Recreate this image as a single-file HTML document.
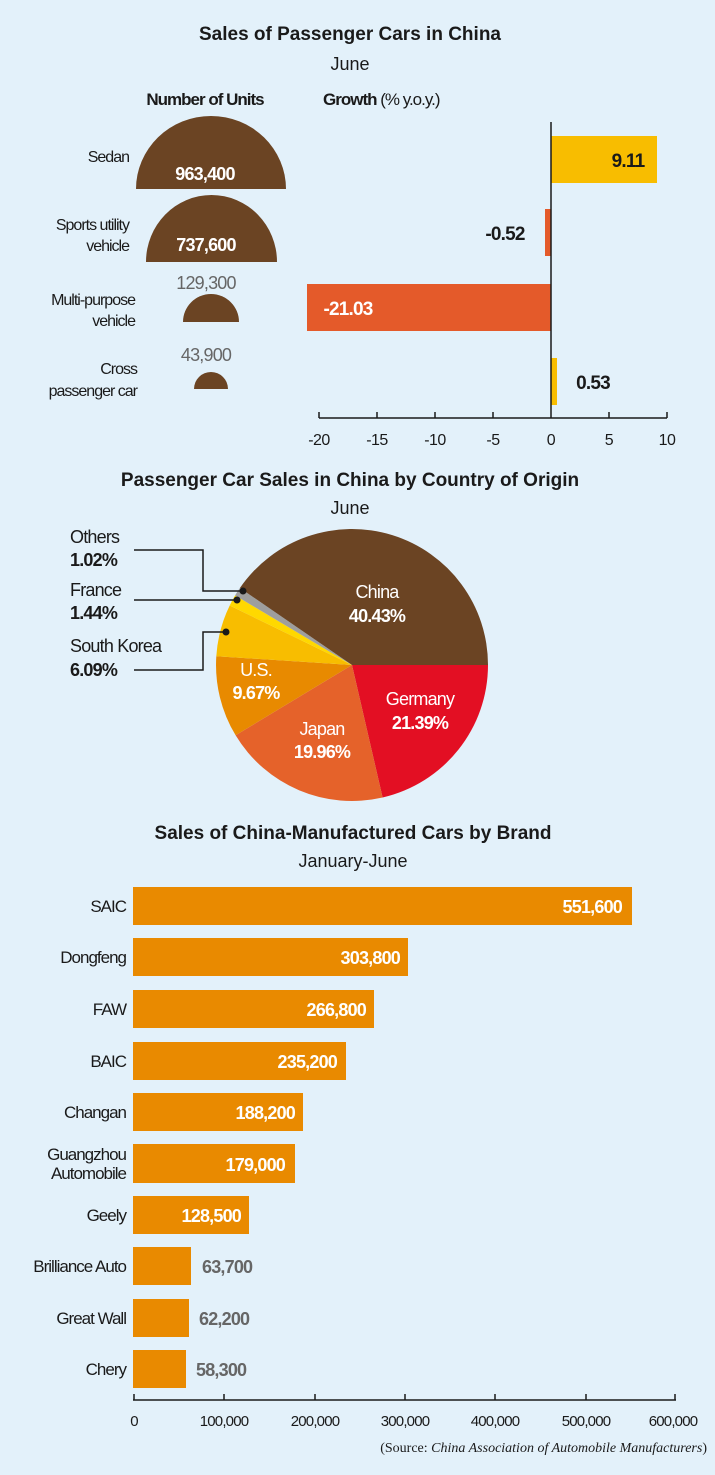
<!DOCTYPE html>
<html><head><meta charset="utf-8"><style>
html,body{margin:0;padding:0;background:#e3f1fa;}
svg{display:block;font-family:"Liberation Sans",sans-serif;}
</style></head><body>
<svg width="715" height="1475" viewBox="0 0 715 1475">
<rect width="715" height="1475" fill="#e3f1fa"/>
<!-- Section 1 -->
<text x="350" y="40" text-anchor="middle" font-size="19" font-weight="bold" fill="#1a1a1a">Sales of Passenger Cars in China</text>
<text x="350" y="70" text-anchor="middle" font-size="18" fill="#1a1a1a">June</text>
<text x="205" y="105" text-anchor="middle" font-size="17" font-weight="bold" fill="#1a1a1a" letter-spacing="-1">Number of Units</text>
<text x="323" y="105" font-size="17" fill="#1a1a1a" letter-spacing="-1"><tspan font-weight="bold">Growth</tspan> (% y.o.y.)</text>
<g font-size="16" fill="#1a1a1a" text-anchor="end" letter-spacing="-1">
<text x="129" y="162">Sedan</text>
<text x="129" y="230">Sports utility</text><text x="129" y="251">vehicle</text>
<text x="135" y="305">Multi-purpose</text><text x="135" y="326">vehicle</text>
<text x="137" y="374">Cross</text><text x="137" y="396">passenger car</text>
</g>
<path d="M136 189 A75 73 0 0 1 286 189 Z" fill="#6b4423"/>
<path d="M146 262 A65.5 67 0 0 1 277 262 Z" fill="#6b4423"/>
<path d="M183 322 A28 28 0 0 1 239 322 Z" fill="#6b4423"/>
<path d="M194 389 A17 17 0 0 1 228 389 Z" fill="#6b4423"/>
<g font-size="18" text-anchor="middle" letter-spacing="-0.8">
<text x="205" y="180" fill="#fff" font-weight="bold">963,400</text>
<text x="206" y="251" fill="#fff" font-weight="bold">737,600</text>
<text x="206" y="289" fill="#666">129,300</text>
<text x="206" y="361" fill="#666">43,900</text>
</g>
<rect x="551" y="136" width="106" height="47" fill="#f8bd00"/>
<rect x="545" y="209" width="6" height="47" fill="#e45a2a"/>
<rect x="307" y="284" width="244" height="47" fill="#e45a2a"/>
<rect x="551" y="358" width="6" height="47" fill="#f8bd00"/>
<line x1="551" y1="122" x2="551" y2="418" stroke="#1a1a1a" stroke-width="1.5"/>
<g font-size="19" font-weight="bold" letter-spacing="-0.8">
<text x="628" y="167" text-anchor="middle" fill="#1a1a1a">9.11</text>
<text x="505" y="240" text-anchor="middle" fill="#1a1a1a">-0.52</text>
<text x="348" y="315" text-anchor="middle" fill="#fff">-21.03</text>
<text x="593" y="389" text-anchor="middle" fill="#1a1a1a">0.53</text>
</g>
<line x1="319" y1="418" x2="667" y2="418" stroke="#1a1a1a" stroke-width="1.5"/>
<g stroke="#1a1a1a" stroke-width="1.5">
<line x1="319" y1="412" x2="319" y2="418"/><line x1="377" y1="412" x2="377" y2="418"/><line x1="435" y1="412" x2="435" y2="418"/><line x1="493" y1="412" x2="493" y2="418"/><line x1="609" y1="412" x2="609" y2="418"/><line x1="667" y1="412" x2="667" y2="418"/>
</g>
<g font-size="16" fill="#1a1a1a" text-anchor="middle" letter-spacing="-0.5">
<text x="319" y="445">-20</text><text x="377" y="445">-15</text><text x="435" y="445">-10</text><text x="493" y="445">-5</text><text x="551" y="445">0</text><text x="609" y="445">5</text><text x="667" y="445">10</text>
</g>
<!-- Section 2 pie -->
<text x="350" y="486" text-anchor="middle" font-size="19" font-weight="bold" fill="#1a1a1a">Passenger Car Sales in China by Country of Origin</text>
<text x="350" y="514" text-anchor="middle" font-size="18" fill="#1a1a1a">June</text>
<g transform="translate(352,665)">
<path d="M0 0 L136 0 A136 136 0 0 1 30.6 132.5 Z" fill="#e30f23"/>
<path d="M0 0 L30.6 132.5 A136 136 0 0 1 -116.4 70.3 Z" fill="#e5622a"/>
<path d="M0 0 L-116.4 70.3 A136 136 0 0 1 -135.7 -8.8 Z" fill="#e88a00"/>
<path d="M0 0 L-135.7 -8.8 A136 136 0 0 1 -122.3 -59.5 Z" fill="#f8bd00"/>
<path d="M0 0 L-122.3 -59.5 A136 136 0 0 1 -116.9 -69.6 Z" fill="#ffd800"/>
<path d="M0 0 L-116.9 -69.6 A136 136 0 0 1 -112.1 -77.0 Z" fill="#9e9e9e"/>
<path d="M0 0 L-112.1 -77.0 A136 136 0 0 1 136 0 Z" fill="#6b4423"/>
</g>
<g font-size="18" fill="#fff" text-anchor="middle" letter-spacing="-0.8">
<text x="377" y="598">China</text><text x="377" y="622" font-weight="bold">40.43%</text>
<text x="420" y="705">Germany</text><text x="420" y="729" font-weight="bold">21.39%</text>
<text x="322" y="735">Japan</text><text x="322" y="758" font-weight="bold">19.96%</text>
<text x="256" y="676">U.S.</text><text x="256" y="699" font-weight="bold">9.67%</text>
</g>
<g stroke="#1a1a1a" stroke-width="1.5" fill="none">
<polyline points="134,550 203,550 203,591 243,591"/>
<polyline points="134,600 237,600"/>
<polyline points="134,670 203,670 203,632 226,632"/>
</g>
<g fill="#1a1a1a"><circle cx="243" cy="591" r="3.5"/><circle cx="237" cy="600" r="3.5"/><circle cx="226" cy="632" r="3.5"/></g>
<g font-size="18" fill="#1a1a1a" letter-spacing="-0.8">
<text x="70" y="543">Others</text><text x="70" y="566" font-weight="bold">1.02%</text>
<text x="70" y="596">France</text><text x="70" y="619" font-weight="bold">1.44%</text>
<text x="70" y="652">South Korea</text><text x="70" y="676" font-weight="bold">6.09%</text>
</g>
<!-- Section 3 -->
<text x="353" y="839" text-anchor="middle" font-size="19" font-weight="bold" fill="#1a1a1a">Sales of China-Manufactured Cars by Brand</text>
<text x="353" y="867" text-anchor="middle" font-size="18" fill="#1a1a1a">January-June</text>
<g fill="#e98a00">
<rect x="133" y="887" width="499" height="38"/>
<rect x="133" y="938" width="275" height="38"/>
<rect x="133" y="990" width="241" height="38"/>
<rect x="133" y="1042" width="213" height="38"/>
<rect x="133" y="1093" width="170" height="38"/>
<rect x="133" y="1144" width="162" height="39"/>
<rect x="133" y="1196" width="116" height="38"/>
<rect x="133" y="1247" width="58" height="38"/>
<rect x="133" y="1299" width="56" height="38"/>
<rect x="133" y="1350" width="53" height="38"/>
</g>
<g font-size="17" fill="#1a1a1a" text-anchor="end" letter-spacing="-1">
<text x="126" y="912">SAIC</text><text x="126" y="963">Dongfeng</text><text x="126" y="1015">FAW</text><text x="126" y="1067">BAIC</text><text x="126" y="1118">Changan</text>
<text x="126" y="1160">Guangzhou</text><text x="126" y="1179">Automobile</text>
<text x="126" y="1221">Geely</text><text x="126" y="1272">Brilliance Auto</text><text x="126" y="1324">Great Wall</text><text x="126" y="1375">Chery</text>
</g>
<g font-size="18" font-weight="bold" fill="#fff" text-anchor="end" letter-spacing="-0.8">
<text x="622" y="913">551,600</text><text x="400" y="964">303,800</text><text x="366" y="1016">266,800</text><text x="337" y="1068">235,200</text><text x="295" y="1119">188,200</text><text x="285" y="1171">179,000</text><text x="241" y="1222">128,500</text>
</g>
<g font-size="18" font-weight="bold" fill="#666" letter-spacing="-0.8">
<text x="202" y="1273">63,700</text><text x="199" y="1325">62,200</text><text x="196" y="1376">58,300</text>
</g>
<line x1="133" y1="1400" x2="676" y2="1400" stroke="#1a1a1a" stroke-width="1.5"/>
<g stroke="#1a1a1a" stroke-width="1.5">
<line x1="134" y1="1394" x2="134" y2="1400"/><line x1="224" y1="1394" x2="224" y2="1400"/><line x1="315" y1="1394" x2="315" y2="1400"/><line x1="405" y1="1394" x2="405" y2="1400"/><line x1="495" y1="1394" x2="495" y2="1400"/><line x1="586" y1="1394" x2="586" y2="1400"/><line x1="675" y1="1394" x2="675" y2="1400"/>
</g>
<g font-size="15" fill="#1a1a1a" text-anchor="middle" letter-spacing="-0.8">
<text x="134" y="1426">0</text><text x="224" y="1426">100,000</text><text x="315" y="1426">200,000</text><text x="405" y="1426">300,000</text><text x="495" y="1426">400,000</text><text x="586" y="1426">500,000</text><text x="673" y="1426">600,000</text>
</g>
<text x="707" y="1452" text-anchor="end" font-size="14" font-family="Liberation Serif,serif" fill="#1a1a1a">(Source: <tspan font-style="italic">China Association of Automobile Manufacturers</tspan>)</text>
</svg>
</body></html>
